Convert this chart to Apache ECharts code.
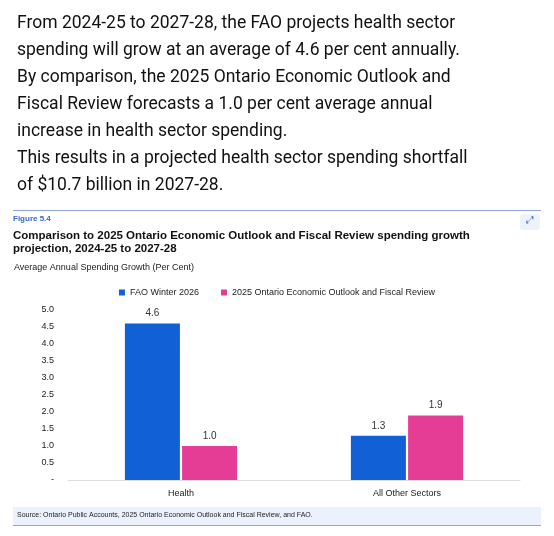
<!DOCTYPE html>
<html><head><meta charset="utf-8">
<script src="https://cdn.jsdelivr.net/npm/echarts@6/dist/echarts.min.js"></script>
<style>html,body{margin:0;padding:0;background:#fff}#c{width:554px;height:536px}</style>
</head><body><div id="c"></div>
<script>
const categories = ['Health', 'All Other Sectors'];
const seriesNames = ['FAO Winter 2026', '2025 Ontario Economic Outlook and Fiscal Review'];
const faoValues = [4.6, 1.3];
const ontarioValues = [1.0, 1.9];
const yTicks = ['-', '0.5', '1.0', '1.5', '2.0', '2.5', '3.0', '3.5', '4.0', '4.5', '5.0'];
const headerLines = [
 'From 2024-25 to 2027-28, the FAO projects health sector',
 'spending will grow at an average of 4.6 per cent annually.',
 'By comparison, the 2025 Ontario Economic Outlook and',
 'Fiscal Review forecasts a 1.0 per cent average annual',
 'increase in health sector spending.',
 'This results in a projected health sector spending shortfall',
 'of $10.7 billion in 2027-28.'
];
const chart = echarts.init(document.getElementById('c'));
const label = {show:true, position:'top', color:'#333', fontSize:10, fontFamily:'Liberation Sans', formatter:p=>p.value.toFixed(1)};
chart.setOption({
 animation:false,
 textStyle:{fontFamily:'Liberation Sans'},
 graphic:[
  {type:'text', left:17, top:10, style:{text:headerLines.join('\n'), font:'17.5px Roboto', lineHeight:27, fill:'#111'}},
  {type:'rect', shape:{x:13,y:210,width:528,height:1}, style:{fill:'#8fa6e0'}},
  {type:'rect', shape:{x:520,y:214,width:20,height:16,r:3}, style:{fill:'#edf2fb'}},
  {type:'text', left:526, top:215, style:{text:'⤢', font:'10px DejaVu Sans', fill:'#3a66d0'}},
  {type:'text', left:13, top:215, style:{text:'Figure 5.4', font:'bold 8px Liberation Sans', fill:'#3a66d0'}},
  {type:'text', left:13, top:229, style:{text:'Comparison to 2025 Ontario Economic Outlook and Fiscal Review spending growth\nprojection, 2024-25 to 2027-28', font:'bold 11.5px Liberation Sans', lineHeight:13, fill:'#111'}},
  {type:'text', left:14, top:263, style:{text:'Average Annual Spending Growth (Per Cent)', font:'9px Liberation Sans', fill:'#222'}},
  {type:'rect', shape:{x:13,y:507,width:528,height:18}, style:{fill:'#ebf2fd'}},
  {type:'rect', shape:{x:13,y:525,width:528,height:1}, style:{fill:'#8fa6e0'}},
  {type:'text', left:17, top:512, style:{text:'Source: Ontario Public Accounts, 2025 Ontario Economic Outlook and Fiscal Review, and FAO.', font:'7px Liberation Sans', fill:'#222'}}
 ],
 legend:{top:283, left:'center', itemWidth:6, itemHeight:6, itemGap:22, icon:'rect', textStyle:{fontSize:9, color:'#222', fontFamily:'Liberation Sans'}, data:seriesNames},
 grid:{left:68, right:34, top:310, bottom:56},
 xAxis:{type:'category', data:categories, axisTick:{show:false}, axisLine:{lineStyle:{color:'#ddd'}}, axisLabel:{color:'#222', fontSize:9, margin:9}},
 yAxis:{type:'value', min:0, max:5, interval:0.5, splitLine:{show:false}, axisLabel:{color:'#222', fontSize:9, margin:14, formatter:v=>yTicks[Math.round(v*2)]}},
 series:[
  {name:seriesNames[0], type:'bar', data:faoValues, barWidth:55, barGap:'4%', itemStyle:{color:'#1160d6'}, label},
  {name:seriesNames[1], type:'bar', data:ontarioValues, barWidth:55, itemStyle:{color:'#e53d95'}, label}
 ]
});
</script></body></html>
